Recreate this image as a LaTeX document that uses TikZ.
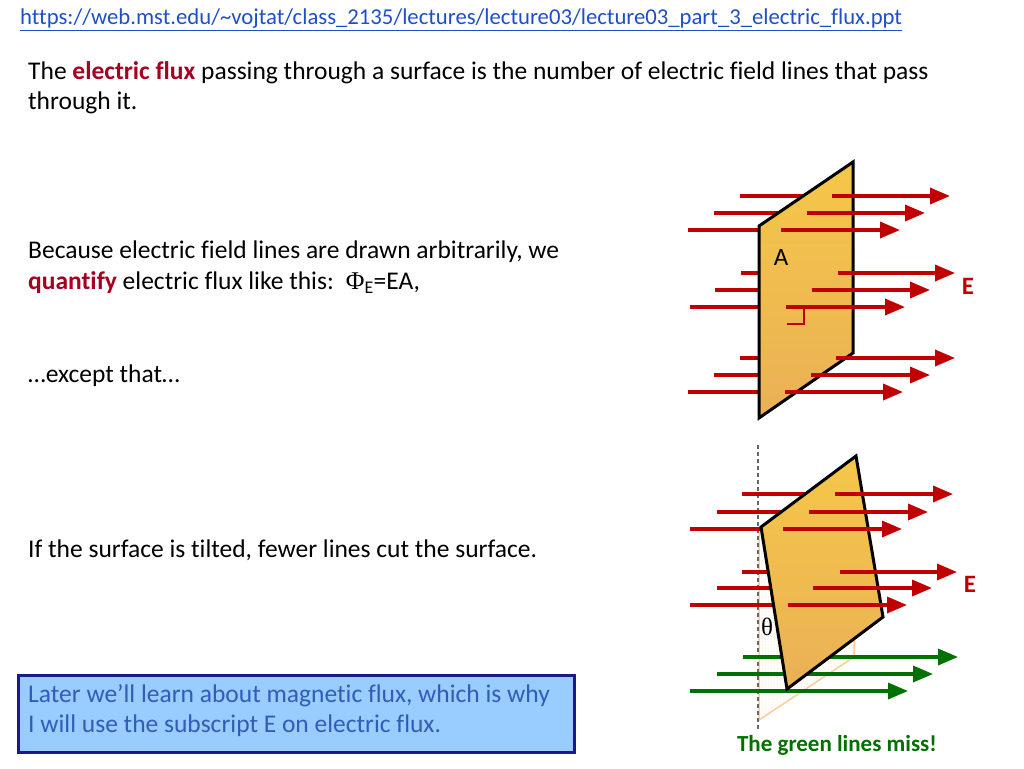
\documentclass[tikz,border=0pt]{standalone}
\usepackage{fontspec}
\setmainfont[RawFeature=-liga]{Carlito}
\newfontfamily\serif{Liberation Serif}
\usetikzlibrary{patterns,arrows.meta}
\definecolor{fluxred}{HTML}{A50021}
\definecolor{arrred}{HTML}{C00000}
\definecolor{grn}{HTML}{007000}
\definecolor{plate}{HTML}{F2B95A}
\definecolor{boxblue}{HTML}{99CCFF}
\definecolor{boxline}{HTML}{1A1A8C}
\definecolor{boxtext}{HTML}{2F5DB8}
\definecolor{urlblue}{HTML}{1F4FC8}
\begin{document}
\begin{tikzpicture}[x=1pt,y=-1pt,
  txt/.style={anchor=west,inner sep=0pt,font=\fontsize{25.5}{30}\selectfont},
  rl/.style={draw=arrred,line width=3.4pt},
  ra/.style={draw=arrred,line width=3.4pt,-{Triangle[length=20pt,width=16pt]}},
  ga/.style={draw=grn,line width=3.4pt,-{Triangle[length=20pt,width=16pt]}},
  plt/.style={draw=black,line width=3pt,line join=miter,top color=plate!80!yellow,bottom color=plate!85!brown}]
\useasboundingbox (0,0) rectangle (1024,768);
\fill[white] (0,0) rectangle (1024,768);
\node[txt,font=\fontsize{22.7}{26}\selectfont,text=urlblue] (url) at (20,20) {\underline{https://web.mst.edu/\char`\~vojtat/class\_2135/lectures/lecture03/lecture03\_part\_3\_electric\_flux.ppt}};
\node[txt] (t1) at (28,73) {The \textbf{\textcolor{fluxred}{electric flux}} passing through a surface is the number of electric field lines that pass};
\node[txt] (t2) at (28,103) {through it.};
\node[txt] (t3) at (28,252) {Because electric field lines are drawn arbitrarily, we};
\node[txt] (t4) at (28,283) {\textbf{\textcolor{fluxred}{quantify}} electric flux like this:\, {\serif Φ}\textsubscript{E}=EA,};
\node[txt] (t5) at (28,376) {…except that…};
\node[txt] (t6) at (28,550) {If the surface is tilted, fewer lines cut the surface.};
\node[draw=boxline,line width=3pt,fill=boxblue,minimum width=556pt,minimum height=77pt,anchor=north west] (box) at (17,674) {};
\node[txt,text=boxtext] (b1) at (28,696) {Later we’ll learn about magnetic flux, which is why};
\node[txt,text=boxtext] (b2) at (28,726) {I will use the subscript E on electric flux.};
% top plate
\foreach \y/\a/\b/\c in {196/740/832/950,213/714/807/925,230/688/781/900,273/741/838/955,290/715/812/930,307/690/786/905,358/740/836/955,375/714/811/930,392/688/785/903}{
  \draw[rl] (\a,\y) -- (\b,\y);}
\draw[plt] (759,226) -- (853,162) -- (853,353) -- (759,418) -- cycle;
\foreach \y/\a/\b/\c in {196/740/832/950,213/714/807/925,230/688/781/900,273/741/838/955,290/715/812/930,307/690/786/905,358/740/836/955,375/714/811/930,392/688/785/903}{
  \draw[ra] (\b,\y) -- (\c,\y);}
\draw[arrred,line width=2.8pt] (804,307) -- (804,324) -- (787,324);
\node[font=\fontsize{25}{30}\selectfont] (A) at (781,257) {A};
\node[font=\bfseries\fontsize{25}{30}\selectfont,text=arrred] (E1) at (968,286) {E};
% bottom
\draw[orange!40,line width=1.5pt,pattern=dots,pattern color=orange!40] (759,527) -- (759,720) -- (854,657) -- (854,620);
\draw[gray!80!black,dash pattern=on 4pt off 3pt,line width=1.4pt] (758,445) -- (758,730);
\foreach \y/\a/\b/\c in {494/742/835/953,512/717/809/928,529/690/783/902,572/742/840/957,588/717/813/932,605/690/788/907}{
  \draw[rl] (\a,\y) -- (\b,\y);}
\draw[ga] (743,657) -- (958,657);
\draw[ga] (717,674) -- (933,674);
\draw[ga] (690,691) -- (908,691);
\draw[plt] (761,527) -- (856,456) -- (883,617) -- (787,689) -- cycle;
\foreach \y/\a/\b/\c in {494/742/835/953,512/717/809/928,529/690/783/902,572/742/840/957,588/717/813/932,605/690/788/907}{
  \draw[ra] (\b,\y) -- (\c,\y);}
\node[font=\serif\fontsize{25}{30}\selectfont] (th) at (767,627) {θ};
\node[font=\bfseries\fontsize{25}{30}\selectfont,text=arrred] (E2) at (970,584) {E};
\node[font=\bfseries\fontsize{23}{26}\selectfont,text=grn] (miss) at (837,745) {The green lines miss!};
\end{tikzpicture}
\end{document}
